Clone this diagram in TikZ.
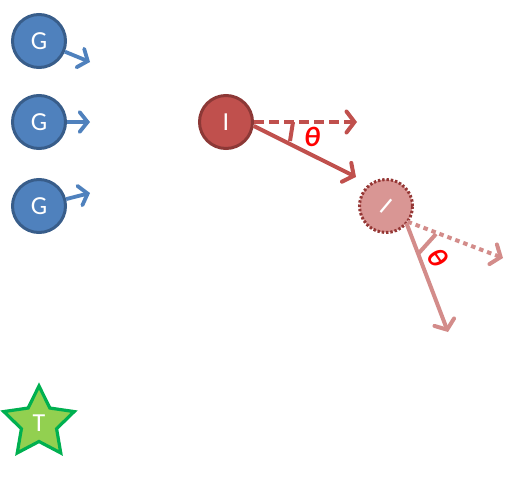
\documentclass[tikz,border=0pt]{standalone}
\usepackage{fontspec}
\setmainfont{Carlito}
\usetikzlibrary{arrows.meta,shapes.geometric}
\definecolor{gfill}{HTML}{4F81BD}
\definecolor{gline}{HTML}{385D8A}
\definecolor{ifill}{HTML}{C0504D}
\definecolor{iline}{HTML}{8C3836}
\definecolor{pfill}{HTML}{D99694}
\definecolor{pline}{HTML}{953735}
\definecolor{parrow}{HTML}{D38C8A}
\definecolor{sfill}{HTML}{92D050}
\definecolor{sline}{HTML}{00B050}
\tikzset{
  lbl/.style={text=white,font=\fontsize{26}{30}\selectfont},
  gnode/.style={circle,fill=gfill,draw=gline,line width=3pt,minimum size=53pt,inner sep=0pt,lbl},
  garrow/.style={draw=gfill,line width=3.8pt,-{Straight Barb[length=8pt,width=20pt,line cap=round]}},
  inode/.style={circle,fill=ifill,draw=iline,line width=3pt,minimum size=53pt,inner sep=0pt,lbl},
  iarrow/.style={draw=ifill,line width=4pt,-{Straight Barb[length=8pt,width=21pt,line cap=round]}},
  pnode/.style={circle,fill=pfill,minimum size=53pt,inner sep=0pt},
  pborder/.style={draw=pline,line width=3pt,dash pattern=on 2.4pt off 1.9pt},
  parrowst/.style={draw=parrow,line width=4pt,-{Straight Barb[length=8pt,width=21pt,line cap=round]}},
  tick/.style={line width=4pt},
  thetalabel/.style={text=red,font=\fontsize{28}{32}\selectfont\bfseries\itshape},
  starnode/.style={star,star points=5,star point ratio=2.0,fill=sfill,draw=sline,line width=3.2pt,minimum size=74pt,inner sep=0pt,lbl}
}
\begin{document}
\begin{tikzpicture}[x=1pt,y=-1pt]
\useasboundingbox (0,0) rectangle (511,477);
% G nodes
\node[gnode] (g1) at (39,41) {G};
\node[gnode] (g2) at (39,122) {G};
\node[gnode] (g3) at (39,206) {G};
\coordinate (e1) at (90,62);
\coordinate (e2) at (90,122);
\coordinate (e3) at (90,193);
\draw[garrow] (g1) -- (e1);
\draw[garrow] (g2) -- (e2);
\draw[garrow] (g3) -- (e3);
% I node
\node[inode] (i) at (226,122) {I};
\coordinate (ie1) at (357,122);
\coordinate (ie2) at (356,177);
\draw[iarrow,dash pattern=on 10pt off 5pt] (i.east) -- (ie1);
\draw[iarrow] (i.-8) -- (ie2);
\coordinate (t1a) at (293,122);
\coordinate (t1b) at (290,141);
\draw[tick,draw=ifill] (t1a) -- (t1b);
\node[thetalabel] (th1) at (312,137) {θ};
% second node
\node[pnode] (p) at (386,206) {};
\draw[pborder] (p.center) circle (26.5pt);
\node[lbl,rotate=-40] (plabel) at (p.center) {I};
\coordinate (pe1) at (503,258);
\coordinate (pe2) at (448,332);
\draw[parrowst,dash pattern=on 4.5pt off 4pt] (p.-36) -- (pe1);
\draw[parrowst] (p.-40) -- (pe2);
\coordinate (t2a) at (436,234);
\coordinate (t2b) at (418,254);
\draw[tick,draw=parrow] (t2a) -- (t2b);
\node[thetalabel,rotate=-55] (th2) at (438,258) {θ};
% star
\node[starnode] (t) at (39,423) {T};
\end{tikzpicture}
\end{document}
